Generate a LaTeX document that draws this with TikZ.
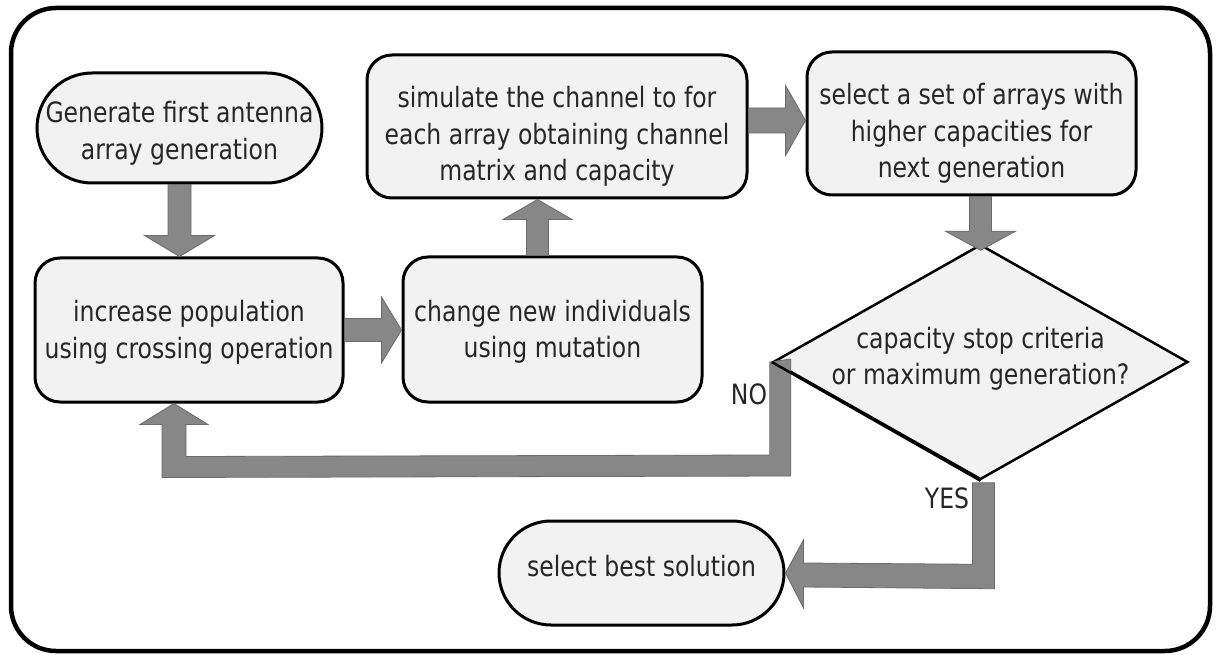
\documentclass[tikz,border=0pt]{standalone}
\usepackage{fontspec}
\setmainfont{DejaVu Sans}[FakeStretch=0.84]
\usetikzlibrary{calc,shapes.geometric}
\definecolor{nodefill}{HTML}{F2F2F2}
\definecolor{arrfill}{HTML}{878787}
\definecolor{arrline}{HTML}{6A6A6A}
\definecolor{txtcol}{HTML}{262626}
\newcommand{\blockarrow}[5]{%
  \coordinate (bah) at ($(#2)!#5!(#1)$);
  \filldraw[barrow] ($(#1)!#3!90:(#2)$) -- ($(bah)!#3!90:(#2)$) -- ($(bah)!#4!90:(#2)$) -- (#2) -- ($(bah)!#4!-90:(#2)$) -- ($(bah)!#3!-90:(#2)$) -- ($(#1)!#3!-90:(#2)$) -- cycle;}
\begin{document}
\begin{tikzpicture}[x=1pt,y=-1pt,
  txt/.style={font=\fontsize{28}{36.5}\selectfont, text=txtcol, align=center, inner sep=0pt},
  box/.style={txt, draw=black, line width=3pt, fill=nodefill, rounded corners=25pt},
  stadium/.style={txt, draw=black, line width=3pt, fill=nodefill},
  decision/.style={diamond, draw=black, line width=2.5pt, fill=nodefill, inner sep=0pt, aspect=1.77},
  barrow/.style={fill=arrfill, draw=arrline, line width=0.8pt, line join=miter},
  lbl/.style={font=\fontsize{28}{34}\selectfont, text=txtcol, inner sep=0pt}]
\useasboundingbox (0,0) rectangle (1216,655);
\draw[line width=4.5pt, rounded corners=45pt] (11,8) rectangle (1210,651);

\node[stadium, rounded corners=55pt, minimum width=285pt, minimum height=110pt, text height=68pt] (start) at (179.5,128) {Generate first antenna\\array generation};
\node[box, minimum width=380pt, minimum height=143pt, text height=114pt] (sim) at (557,126.5) {simulate the channel to for\\each array obtaining channel\\matrix and capacity};
\node[box, minimum width=329pt, minimum height=143pt, text height=114pt] (sel) at (971.5,123.5) {select a set of arrays with\\higher capacities for\\next generation};
\node[box, minimum width=308pt, minimum height=144pt, text height=62pt] (inc) at (189,330) {increase population\\using crossing operation};
\node[box, minimum width=299pt, minimum height=145pt, text height=62pt] (chg) at (552.5,329.5) {change new individuals\\using mutation};
\node[decision, minimum width=415pt, minimum height=235pt] (dia) at (980.5,362) {};
\node[txt] (diat) at ($(dia.center)+(0,-3)$) {capacity stop criteria\\or maximum generation?};
\node[stadium, rounded corners=52pt, minimum width=285pt, minimum height=104pt, text height=21pt, text depth=15pt] (best) at (641.5,573) {select best solution};

\node[lbl] (no) at (749,394) {NO};
\node[lbl] (yes) at (947,498.5) {YES};

% straight block arrows
\coordinate (a1s) at (start.south);
\coordinate (a1e) at (start.south |- inc.north);
\blockarrow{a1s}{a1e}{11.5pt}{35pt}{21pt}
\coordinate (a2s) at (inc.east);
\coordinate (a2e) at (inc.east -| chg.west);
\blockarrow{a2s}{a2e}{11.5pt}{33pt}{20pt}
\coordinate (a3s) at ($(chg.north)+(-15,0)$);
\coordinate (a3e) at (a3s |- sim.south);
\blockarrow{a3s}{a3e}{11pt}{34.5pt}{20pt}
\coordinate (a4s) at ($(sim.east)+(0,-6)$);
\coordinate (a4e) at (a4s -| sel.west);
\blockarrow{a4s}{a4e}{12.5pt}{35pt}{20pt}
\coordinate (a5s) at (dia.north |- sel.south);
\coordinate (a5e) at ($(dia.north)+(0,7)$);
\blockarrow{a5s}{a5e}{11pt}{35pt}{19pt}

% NO loop arrow
\filldraw[barrow] ($(dia.west)+(-2,0)$) -- ($(dia.west)+(19,-3)$) -- ($(dia.west)+(19,114)$)
  -- ($(inc.south)+(-27,74)$) -- ($(inc.south)+(-27,21)$) -- ($(inc.south)+(-49,21)$)
  -- ($(inc.south)+(-15,0)$) -- ($(inc.south)+(19,21)$) -- ($(inc.south)+(-3,21)$)
  -- ($(inc.south)+(-3,53)$) -- ($(dia.west)+(-2,93)$) -- cycle;
\draw[line width=2.5pt] (dia.west) -- (dia.south);

% YES arrow
\filldraw[barrow] ($(dia.south)+(-8,2)$) -- ($(dia.south)+(14,2)$) -- ($(dia.south)+(14,108)$)
  -- ($(best.east)+(18,14)$) -- ($(best.east)+(18,35)$) -- (best.east)
  -- ($(best.east)+(18,-33)$) -- ($(best.east)+(18,-10)$) -- ($(dia.south)+(-8,83.5)$) -- cycle;
\end{tikzpicture}
\end{document}
